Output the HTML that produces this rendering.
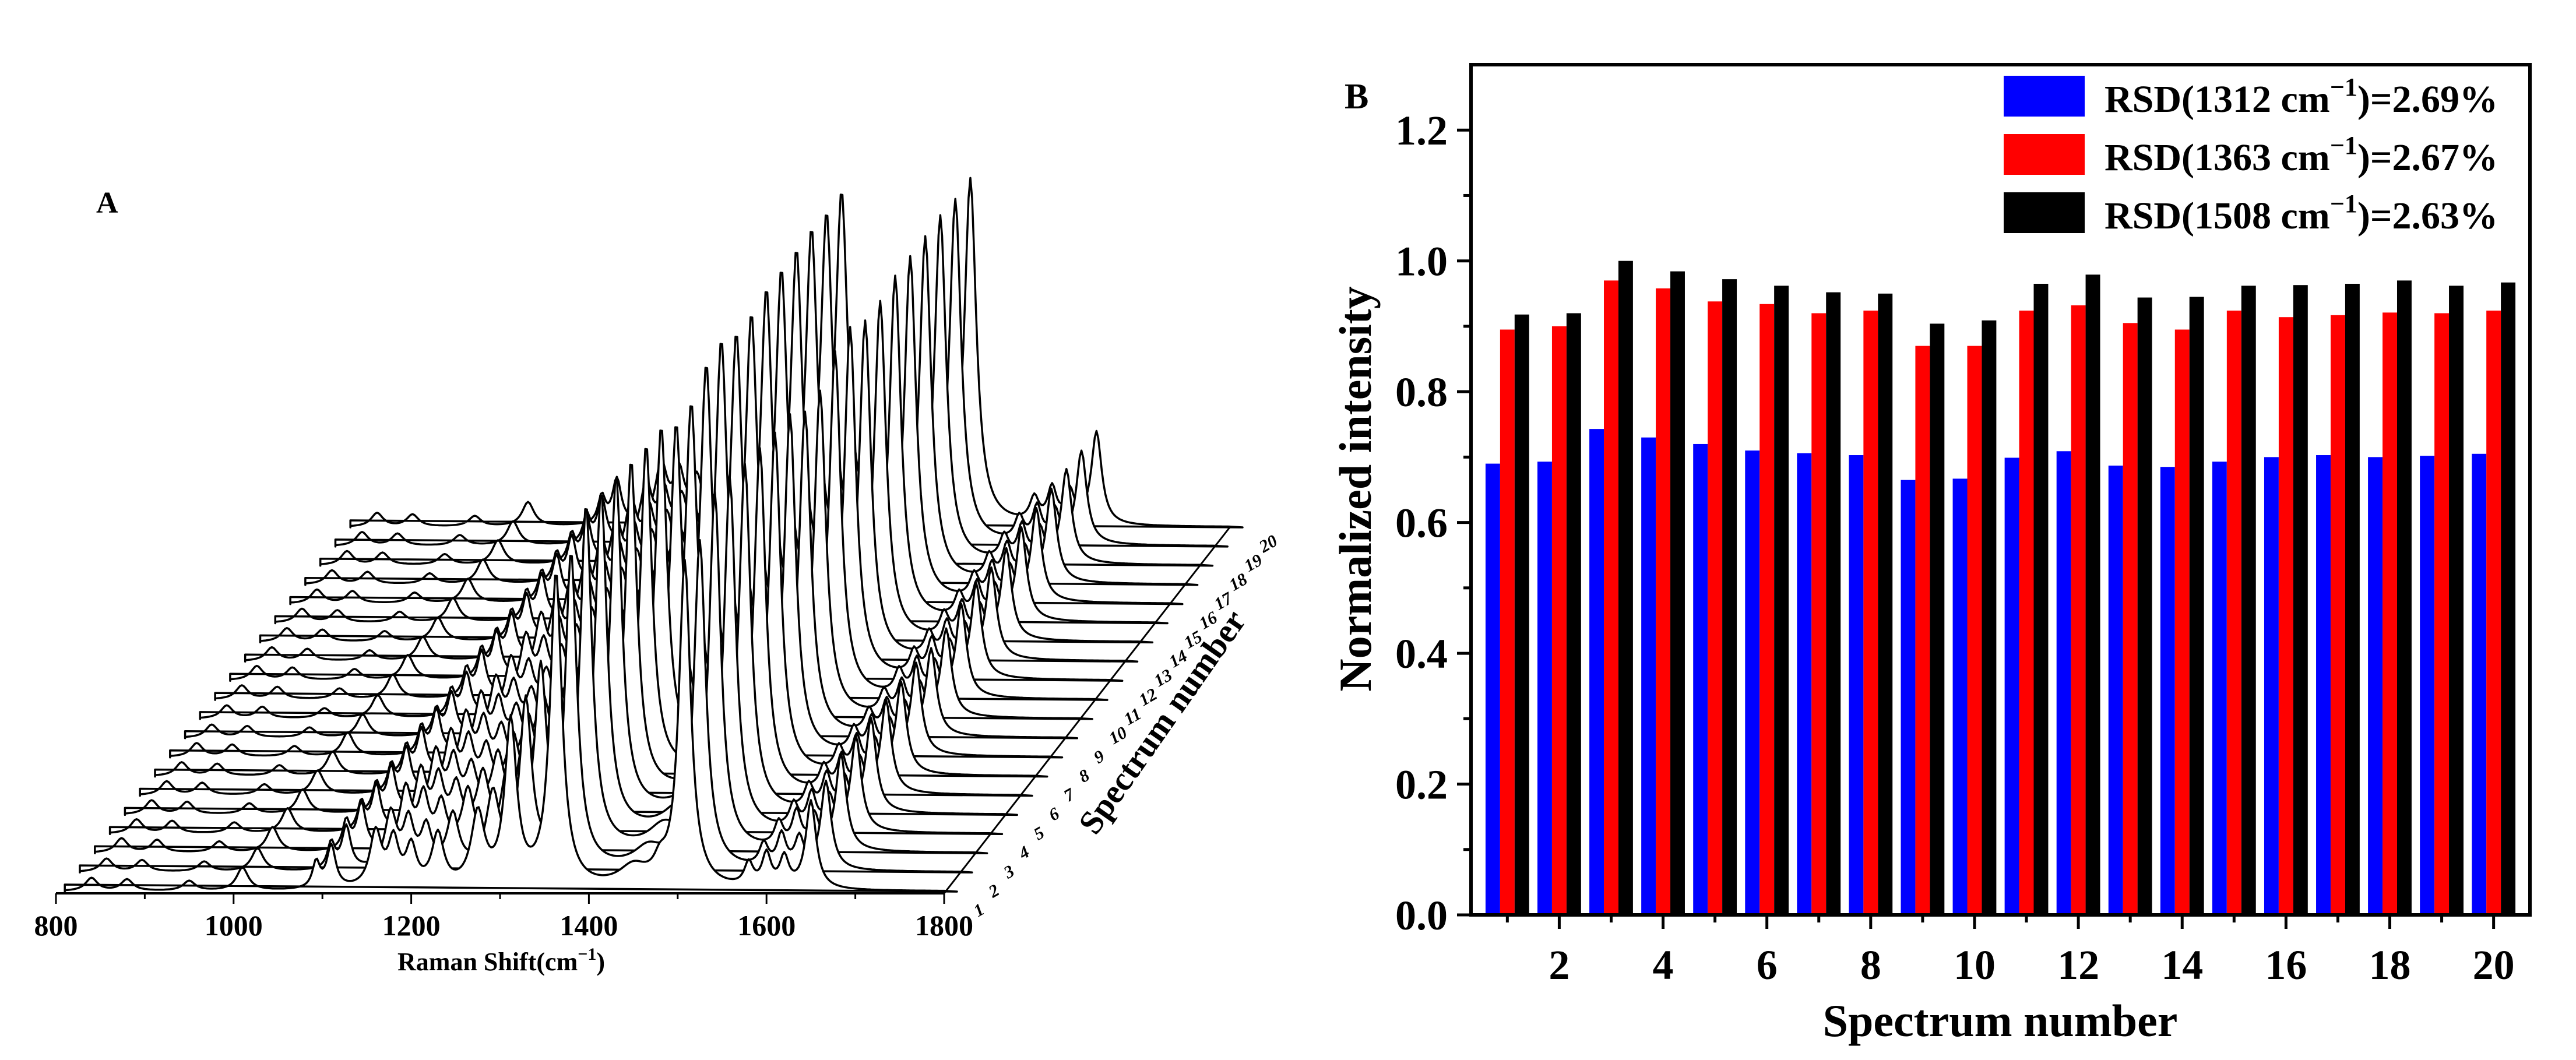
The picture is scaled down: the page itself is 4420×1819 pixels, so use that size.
<!DOCTYPE html>
<html><head><meta charset="utf-8"><style>
html,body{margin:0;padding:0;background:#fff}
svg{display:block}
text{font-family:"Liberation Serif",serif;font-weight:bold}
</style></head><body>
<svg id="fig" width="4420" height="1819" viewBox="0 0 4420 1819" xmlns="http://www.w3.org/2000/svg">
<g id="panelA"></g>
<g id="panelB"></g>
</svg>
<script>
// ---------- Panel A data ----------
const peakPositions = [840, 880, 950, 1010, 1093, 1110, 1160, 1180, 1200, 1230, 1275, 1312, 1363, 1450, 1480, 1508, 1580, 1600, 1620, 1650];
const peakHeights   = [0.04,0.035,0.03,0.07, 0.08, 0.13, 0.17, 0.14, 0.12, 0.16, 0.22, 0.50, 0.96, 0.06, 0.05, 1.00, 0.07, 0.10, 0.09, 0.27];
const peakWidths    = [8, 8, 8, 8, 5, 6, 8, 7, 7, 8, 9, 8, 8, 20, 8, 8, 6, 6, 6, 7];
const spectrumScale = [0.918,0.92,1.0,0.984,0.972,0.962,0.952,0.95,0.904,0.909,0.965,0.979,0.944,0.945,0.962,0.963,0.965,0.97,0.962,0.967];
const xTicksA = [800, 1000, 1200, 1400, 1600, 1800];

// ---------- Panel B data ----------
const categories = [1,2,3,4,5,6,7,8,9,10,11,12,13,14,15,16,17,18,19,20];
const blueVals  = [0.690,0.693,0.743,0.730,0.720,0.710,0.706,0.703,0.665,0.667,0.699,0.709,0.687,0.685,0.693,0.700,0.703,0.700,0.702,0.705];
const redVals   = [0.895,0.900,0.970,0.958,0.938,0.934,0.920,0.924,0.870,0.870,0.924,0.932,0.905,0.895,0.924,0.914,0.917,0.921,0.920,0.924];
const blackVals = [0.918,0.920,1.000,0.984,0.972,0.962,0.952,0.950,0.904,0.909,0.965,0.979,0.944,0.945,0.962,0.963,0.965,0.970,0.962,0.967];
const yTicksB = [0.0,0.2,0.4,0.6,0.8,1.0,1.2];
const xTicksB = [2,4,6,8,10,12,14,16,18,20];
const legendLabels = ["RSD(1312 cm","RSD(1363 cm","RSD(1508 cm"];
const legendPct = ["=2.69%","=2.67%","=2.63%"];

const NS = "http://www.w3.org/2000/svg";
function mk(tag, attrs, parent){const e=document.createElementNS(NS,tag);for(const k in attrs)e.setAttribute(k,attrs[k]);parent.appendChild(e);return e;}

// ===== Panel A =====
(function(){
const g = document.getElementById('panelA');
const x0=96, x1=1620, axY=1533;
const pxPerW=(x1-x0)/1000;
const dX=(2110-1620)/19, dY=(905-1530)/19;
const hPx=610;
function sx(w,i){return x0+(w-800)*pxPerW+i*dX;}
function sy(v,i){return 1530+i*dY - v*hPx;}
function spec(w){let s=0;for(let k=0;k<peakPositions.length;k++){const d=(w-peakPositions[k])/peakWidths[k];s+=peakHeights[k]/(1+d*d);}return s;}
for(let i=spectrumScale.length-1;i>=0;i--){
  let d=`M${sx(810,i).toFixed(1)},${(sy(0,i)-12).toFixed(1)} L${sx(810,i).toFixed(1)},${sy(0,i).toFixed(1)}`;
  for(let w=810;w<=1800;w+=2){d+=` L${sx(w,i).toFixed(1)},${sy(spec(w)*spectrumScale[i],i).toFixed(1)}`;}
  d+=` L${(sx(1800,i)+22).toFixed(1)},${sy(0,i).toFixed(1)}`;
  const p=mk('path',{d:d+' Z',fill:'#fff',stroke:'#000','stroke-width':3.5,'stroke-linejoin':'round'},g);
  
  
  const tx=sx(1800,i)+58, ty=sy(0,i)+44;
  const t=mk('text',{x:tx,y:ty,'font-size':30,'font-style':'italic','font-weight':'normal',transform:`rotate(-30 ${tx} ${ty})`},g);
  t.textContent=String(i+1);
  
  
}
mk('line',{x1:x0,y1:axY,x2:x1,y2:axY,stroke:'#000','stroke-width':4,},g);
mk('line',{x1:x1,y1:axY,x2:2110,y2:905,stroke:'#000','stroke-width':3,},g);
for(let w=800;w<=1800;w+=100){mk('line',{x1:x0+(w-800)*pxPerW,y1:axY,x2:x0+(w-800)*pxPerW,y2:axY+(w%200?10:18),stroke:'#000','stroke-width':3},g);}
xTicksA.forEach(v=>{const t=mk('text',{x:x0+(v-800)*pxPerW,y:1605,'font-size':50,'text-anchor':'middle'},g);t.textContent=v;
  
  });
const xt=mk('text',{x:860,y:1665,'font-size':44,'text-anchor':'middle',},g);
xt.innerHTML='Raman Shift(cm<tspan dy="-18" font-size="30">−1</tspan><tspan dy="18">)</tspan>';
const st=mk('text',{x:2010,y:1250,'font-size':58,'text-anchor':'middle',transform:'rotate(-55 2010 1250)',},g);
st.textContent='Spectrum number';
const la=mk('text',{x:165,y:365,'font-size':52,},g);la.textContent='A';
})();

// ===== Panel B =====
(function(){
const g=document.getElementById('panelB');
const L=2524,R=4341,T=111,B=1570;
const yMax=1.3;
const xMin=0.3,xMax=20.7;
const X=v=>L+(v-xMin)/(xMax-xMin)*(R-L);
const Y=v=>B-v/yMax*(B-T);
const bw=(X(1)-X(0))*0.28;
const series=[[blueVals,'#0000ff',-1],[redVals,'#ff0000',0],[blackVals,'#000000',1]];
series.forEach(([vals,col,off],si)=>{
  categories.forEach((c,ci)=>{
    const cx=X(c)+off*bw;
    const r=mk('rect',{x:cx-bw/2,y:Y(vals[ci]),width:bw,height:B-Y(vals[ci]),fill:col},g);
    
    
  });
});
mk('rect',{x:L,y:T,width:R-L,height:B-T,fill:'none',stroke:'#000','stroke-width':6,},g);
for(let v=0;v<=1.25;v+=0.1){const y=Y(v);const maj=Math.round(v*10)%2===0;mk('line',{x1:L,y1:y,x2:L-(maj?24:13),y2:y,stroke:'#000','stroke-width':5},g);}
yTicksB.forEach(v=>{const t=mk('text',{x:L-40,y:Y(v)+25,'font-size':72,'text-anchor':'end'},g);t.textContent=v.toFixed(1);
  
  });
for(let c=1;c<=20;c++){mk('line',{x1:X(c),y1:B,x2:X(c),y2:B+(c%2?13:24),stroke:'#000','stroke-width':5},g);}
xTicksB.forEach(v=>{const t=mk('text',{x:X(v),y:1680,'font-size':72,'text-anchor':'middle'},g);t.textContent=v;
  
  });
const yt=mk('text',{x:2352,y:839,'font-size':78,'text-anchor':'middle',transform:'rotate(-90 2352 839)',},g);yt.textContent='Normalized intensity';
const xt=mk('text',{x:3432,y:1778,'font-size':78,'text-anchor':'middle',},g);xt.textContent='Spectrum number';
const lb=mk('text',{x:2307,y:186,'font-size':62,},g);lb.textContent='B';
const cols=['#0000ff','#ff0000','#000000'];
legendLabels.forEach((lab,i)=>{
  const y0=130+i*100;
  const sw=mk('rect',{x:3438,y:y0,width:139,height:70,fill:cols[i]},g);
  
  
  const t=mk('text',{x:3611,y:y0+62,'font-size':66},g);
  t.innerHTML=lab+'<tspan dy="-28" font-size="44">−1</tspan><tspan dy="28">)'+legendPct[i]+'</tspan>';
  
  
});
})();
</script>
</body></html>
